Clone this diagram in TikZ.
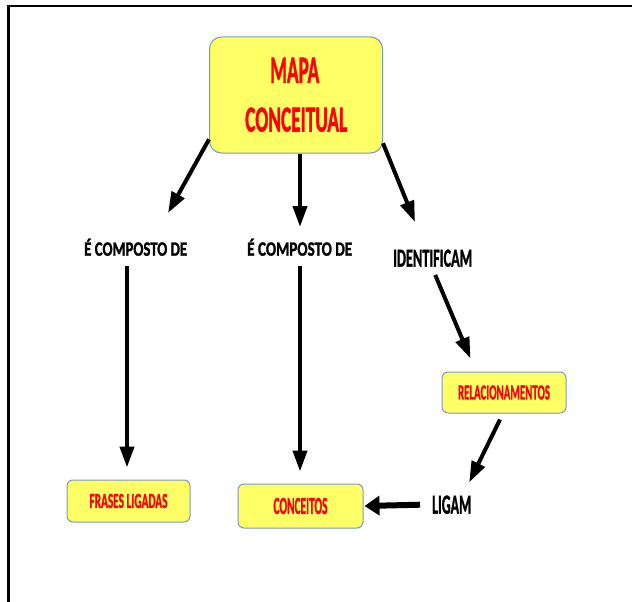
\documentclass[tikz,border=0pt]{standalone}
\usepackage{fontspec}
\setmainfont{Carlito}[BoldFeatures={FakeBold=1.6}]
\usetikzlibrary{arrows.meta,calc}
% text squeezed to a given width and height (in pt)
\newcommand{\fitText}[3]{\resizebox{#1pt}{#2pt}{\bfseries #3}}
\definecolor{boxfill}{HTML}{FFFF66}
\definecolor{boxedge}{HTML}{7A98BC}
\definecolor{textred}{HTML}{FF0000}
\begin{document}
\begin{tikzpicture}[x=1pt,y=-1pt,
  concept/.style={draw=boxedge, line width=1pt, fill=boxfill, rounded corners=6pt,
                  inner sep=0pt, text=textred},
  lbl/.style={inner sep=0pt, anchor=south west},
  link/.style={line width=4pt, -{Triangle[length=21pt,width=14pt]}},
  biglink/.style={line width=6pt, -{Triangle[length=15pt,width=19pt]}},
  ]
\useasboundingbox (0,0) rectangle (632,602);
% page frame (left and top edges)
\draw[line width=2.6pt] (8.5,602) -- (8.5,6) -- (632,6);

% main concept
\node[concept, rounded corners=12pt, minimum width=173pt, minimum height=116pt]
  (root) at (296,95) {};
\node[lbl, text=textred] (mapa) at (270,83) {\fitText{49}{25}{MAPA}};
\node[lbl, text=textred] (conceitual) at (245,132) {\fitText{102}{24}{CONCEITUAL}};

% linking phrases
\node[lbl] (comp1) at (84,256) {\fitText{103}{17}{É COMPOSTO DE}};
\node[lbl] (comp2) at (247,256) {\fitText{105}{17}{É COMPOSTO DE}};
\node[lbl] (ident) at (393,267) {\fitText{79}{17}{IDENTIFICAM}};
\node[lbl] (ligam) at (432,514) {\fitText{39}{18}{LIGAM}};

% concept boxes
\node[concept, minimum width=124pt, minimum height=41pt] (rel) at (504,392.5)
  {\fitText{92}{14}{RELACIONAMENTOS}};
\node[concept, minimum width=123pt, minimum height=42pt] (frases) at (128.5,501)
  {\fitText{78}{14}{FRASES LIGADAS}};
\node[concept, minimum width=125pt, minimum height=44pt] (conc) at (300.5,506)
  {\fitText{54}{16}{CONCEITOS}};

% arrows out of the main concept
\coordinate (tipA) at (168,213);
\coordinate (tipB) at (300,227);
\coordinate (tipC) at (415,222);
\draw[link] (root.207.6) -- (tipA);
\draw[link] ($(root.south)+(4,0)$) -- (tipB);
\draw[link] (root.331.4) -- (tipC);

% arrows between phrases and concepts
\draw[link] ($(comp1.south -| frases.north)+(-1.5,10)$) -- ($(frases.north)+(-1.5,-12)$);
\draw[link] ($(comp2.south -| conc.north)+(-0.5,10)$) -- ($(conc.north)+(-0.5,-12)$);
\draw[link] ($(ident.south)+(2.5,8)$) -- ($(rel.north west)+(29,-13)$);
\draw[link] ($(rel.south)+(-4,6)$) -- ($(ligam.north)+(17.5,-13)$);
\draw[biglink] ($(ligam.west)+(-12,0)$) -- ($(conc.east)+(1,0)$);
\end{tikzpicture}
\end{document}
